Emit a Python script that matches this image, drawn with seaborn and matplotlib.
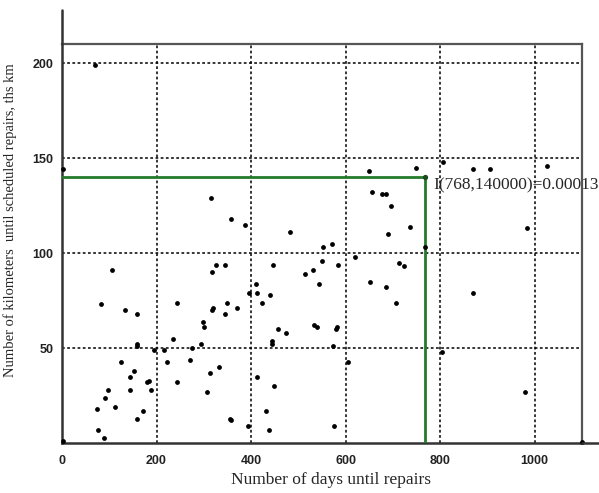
import matplotlib
matplotlib.use("Agg")
import matplotlib.pyplot as plt
import seaborn as sns
import pandas as pd
from matplotlib.lines import Line2D

days = [2, 69, 2, 105, 82, 133, 159, 159, 159, 194, 216, 124, 153, 143, 143, 97, 91,
        180, 184, 189, 113, 75, 172, 159, 77, 89, 244, 235, 222, 244, 271, 275, 295,
        298, 301, 306, 313, 333, 318, 326, 344, 318, 320, 344, 349, 355, 358, 370,
        394, 396, 410, 413, 423, 440, 446, 456, 474, 444, 444, 412, 448, 432, 437,
        513, 530, 544, 549, 552, 572, 584, 534, 540, 581, 579, 574, 576, 606, 620,
        652, 685, 706, 713, 723, 768, 869, 803, 979, 1100, 315, 357, 388, 482, 650,
        655, 676, 685, 696, 690, 748, 806, 869, 905, 1026, 736, 984]
km = [1, 199, 144, 91, 73, 70, 68, 52, 51, 49, 49, 43, 38, 35, 28, 28, 24,
      32, 33, 28, 19, 18, 17, 13, 7, 3, 74, 55, 43, 32, 44, 50, 52,
      64, 61, 27, 37, 40, 90, 94, 94, 70, 71, 68, 74, 13, 12, 71,
      9, 79, 84, 79, 74, 78, 94, 60, 58, 54, 52, 35, 30, 17, 7,
      89, 91, 84, 96, 103, 105, 94, 62, 61, 61, 60, 51, 9, 43, 98,
      85, 82, 74, 95, 93, 103, 79, 48, 27, 0.5, 129, 118, 115, 111, 143,
      132, 131, 131, 125, 110, 145, 148, 144, 144, 146, 114, 113]

x_ticks = [0, 200, 400, 600, 800, 1000]
y_ticks = [50, 100, 150, 200]
point_x, point_y = 768, 140
label_text = "I(768,140000)=0.00013"

df = pd.DataFrame({"days": days, "km": km})

sns.set_style("white")
plt.rcParams["font.family"] = ["Liberation Serif", "DejaVu Serif"]

fig = plt.figure(figsize=(5.99, 4.93), dpi=100)
ax = fig.add_axes([62 / 599, (493 - 443.3) / 493, 520 / 599, (443.3 - 44) / 493])

sns.scatterplot(data=df, x="days", y="km", ax=ax, color="black", s=12,
                linewidth=0, clip_on=False, zorder=5)

green = "#237a2b"
ax.plot([0, point_x], [point_y, point_y], color=green, lw=2.0, zorder=4)
ax.plot([point_x, point_x], [0, point_y], color=green, lw=2.0, zorder=4)
ax.plot([point_x], [point_y], marker="o", ms=2.8, color="#1a4d1a", zorder=6)
ax.text(786, 135.8, label_text, fontsize=12.5, family=["Liberation Serif"],
        va="center", ha="left", clip_on=False, zorder=7)

ax.set_xlim(0, 1100)
ax.set_ylim(0, 210)
ax.set_xticks(x_ticks)
ax.set_yticks(y_ticks)
ax.set_xticks([100, 300, 500, 700, 900, 1100], minor=True)
ax.set_yticks([25, 75, 125, 175], minor=True)
ax.set_xticklabels([str(v) for v in x_ticks])
ax.set_yticklabels([str(v) for v in y_ticks])

for lab in ax.get_xticklabels() + ax.get_yticklabels():
    lab.set_family(["Liberation Sans", "DejaVu Sans"])
    lab.set_fontweight("bold")
    lab.set_fontsize(9)
    lab.set_color("#222222")

ax.tick_params(axis="x", which="major", direction="inout", length=7, width=1.2,
               color="#222222", pad=5)
ax.tick_params(axis="y", which="major", direction="out", length=4, width=1.2,
               color="#222222", pad=2)
ax.tick_params(axis="both", which="minor", direction="inout", length=3, width=1.2,
               color="#222222")

ax.grid(True, which="major", color="black", linestyle=(0, (1.8, 1.6)), lw=1.1)
ax.set_axisbelow(True)

for side in ["top", "right"]:
    ax.spines[side].set_color("#555555")
    ax.spines[side].set_linewidth(1.6)
for side in ["left", "bottom"]:
    ax.spines[side].set_color("#333333")
    ax.spines[side].set_linewidth(1.8)

# axis line extensions beyond the frame
fig.add_artist(Line2D([62 / 599, 62 / 599], [(493 - 44) / 493, (493 - 10) / 493],
                      transform=fig.transFigure, color="#333333", lw=1.8))
fig.add_artist(Line2D([582 / 599, 1.0], [(493 - 443.3) / 493, (493 - 443.3) / 493],
                      transform=fig.transFigure, color="#333333", lw=1.8))

ax.set_xlabel("Number of days until repairs", fontsize=12.5)
ax.set_ylabel("Number of kilometers  until scheduled repairs, ths km", fontsize=10.5)
ax.xaxis.set_label_coords(0.518, -0.073)
ax.yaxis.set_label_coords(-0.087, 0.56)

fig.savefig("out.png", dpi=100)
